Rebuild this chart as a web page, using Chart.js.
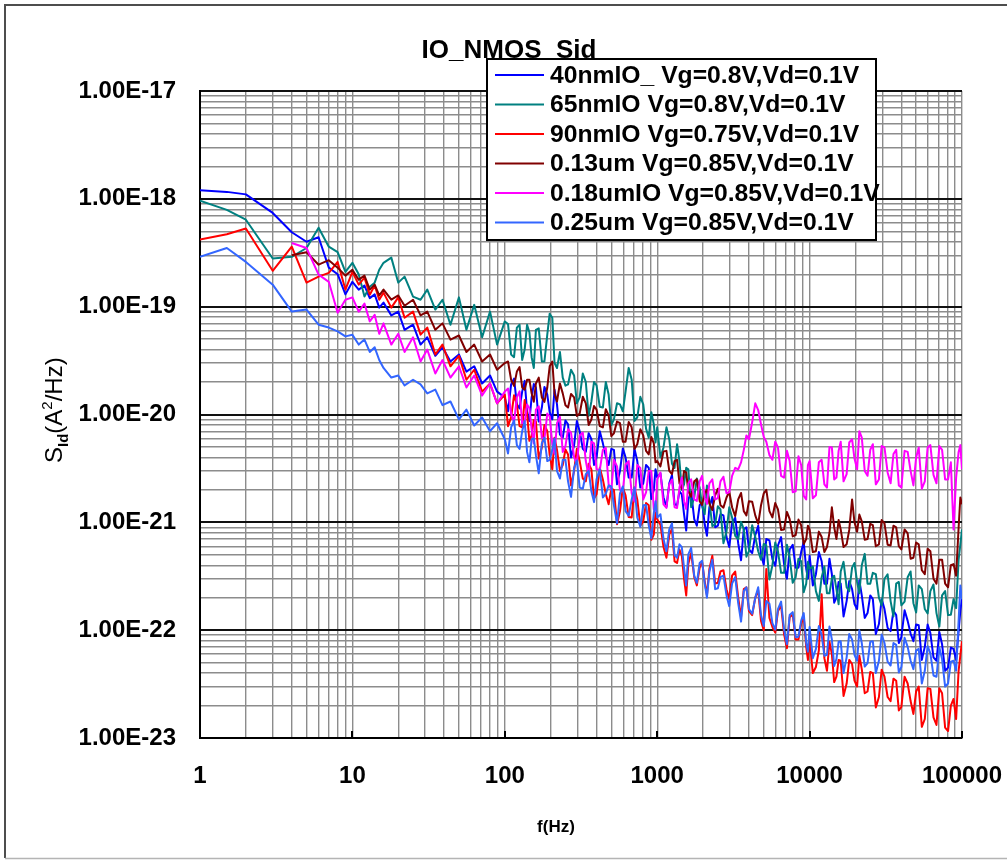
<!DOCTYPE html>
<html>
<head>
<meta charset="utf-8">
<title>IO_NMOS_Sid</title>
<script src="https://cdn.jsdelivr.net/npm/chart.js@4.4.0/dist/chart.umd.min.js"></script>
<style>
  html, body { margin: 0; padding: 0; background: #fff; }
  #wrap { width: 1007px; height: 863px; position: relative; }
</style>
</head>
<body>
<div id="wrap"><canvas id="c" width="1007" height="863"></canvas></div>
<script>
// ---- text ----
const FONT = "'Liberation Sans', Arial, Helvetica, sans-serif";
const TITLE = 'IO_NMOS_Sid';
const X_TITLE = 'f(Hz)';

// ---- axes ----
const X_DECADES = [1, 10, 100, 1000, 10000, 100000];
const X_TICK_LABELS = ['1', '10', '100', '1000', '10000', '100000'];
const Y_DECADES = [1e-23, 1e-22, 1e-21, 1e-20, 1e-19, 1e-18, 1e-17];
const Y_TICK_LABELS = ['1.00E-23', '1.00E-22', '1.00E-21', '1.00E-20', '1.00E-19', '1.00E-18', '1.00E-17'];

// ---- series ----
const SERIES_NAMES = [
  '40nmIO_ Vg=0.8V,Vd=0.1V',
  '65nmIO Vg=0.8V,Vd=0.1V',
  '90nmIO Vg=0.75V,Vd=0.1V',
  '0.13um Vg=0.85V,Vd=0.1V',
  '0.18umIO Vg=0.85V,Vd=0.1V',
  '0.25um Vg=0.85V,Vd=0.1V'
];
const SERIES_COLORS = ['#0000ff', '#008080', '#ff0000', '#800000', '#ff00ff', '#3366ff'];

// frequency points (Hz)
const FREQ = [
  1, 1.5, 2, 3, 4, 5, 6, 7, 8, 9,
  10, 11, 12, 13, 14, 15, 16, 18, 20, 22, 25, 28, 31, 35, 39, 44, 50, 56, 63, 71, 80, 89,
  100, 105, 110, 115, 120, 125, 130, 135, 140, 145, 150, 155, 160, 167, 175, 182, 190, 197, 205, 212,
  220, 230, 240, 250, 260, 272, 285, 297, 310, 325, 340, 355, 370, 385, 400, 420, 440, 460, 480, 500,
  520, 545, 570, 595, 620, 650, 680, 710, 740, 775, 810, 845, 880, 915, 950, 975,
  1000, 1050, 1100, 1150, 1200, 1250, 1300, 1350, 1400, 1450, 1500, 1550, 1600, 1670, 1750, 1820, 1900, 1970, 2050, 2120,
  2200, 2300, 2400, 2500, 2600, 2720, 2850, 2970, 3100, 3250, 3400, 3550, 3700, 3850, 4000, 4200, 4400, 4600, 4800, 5000,
  5200, 5450, 5700, 5950, 6200, 6500, 6800, 7100, 7400, 7750, 8100, 8450, 8800, 9150, 9500, 9750,
  10000, 10500, 11000, 11500, 12000, 12500, 13000, 13500, 14000, 14500, 15000, 15500, 16000, 16700, 17500, 18200, 19000, 19700, 20500, 21200,
  22000, 23000, 24000, 25000, 26000, 27200, 28500, 29700, 31000, 32500, 34000, 35500, 37000, 38500, 40000, 42000, 44000, 46000, 48000, 50000,
  52000, 54500, 57000, 59500, 62000, 65000, 68000, 71000, 74000, 77500, 81000, 84500, 88000, 91500, 95000, 97500, 100000
];

// Sid (A^2/Hz) for each device, one value per FREQ entry
const S_40NM = [
  1.2e-18, 1.16e-18, 1.1e-18, 7.4e-19, 4.9e-19, 4.0e-19, 4.4e-19, 2.3e-19, 2.0e-19, 1.3e-19,
  1.7e-19, 1.44e-19, 1.57e-19, 1.2e-19, 1.3e-19, 9.8e-20, 1.09e-19, 8.3e-20, 9.0e-20, 6.1e-20, 6.8e-20, 4.45e-20, 5.2e-20, 3.5e-20, 4.2e-20, 3.1e-20, 3.6e-20, 2.5e-20, 2.8e-20, 1.94e-20, 2.3e-20, 1.63e-20,
  1.44e-20, 1.07e-20, 1.9e-20, 2.15e-20, 1.24e-20, 1.14e-20, 1.63e-20, 2.05e-20, 1.07e-20, 8.7e-21, 1.44e-20, 1.92e-20, 1.78e-20, 8.6e-21, 1.16e-20, 1.8e-20, 1.53e-20, 1.05e-20, 9.0e-21, 1.7e-20,
  1.24e-20, 6.5e-21, 6.1e-21, 8.8e-21, 8.1e-21, 4.0e-21, 5.2e-21, 8.7e-21, 7.0e-21, 4.8e-21, 4.5e-21, 6.7e-21, 5.9e-21, 3.4e-21, 4.0e-21, 7.0e-21, 5.4e-21, 4.1e-21, 3.4e-21, 4.8e-21,
  4.7e-21, 2.25e-21, 3.0e-21, 4.85e-21, 4.0e-21, 2.6e-21, 2.6e-21, 4.8e-21, 3.7e-21, 2.1e-21, 2.3e-21, 3.4e-21, 3.2e-21, 1.65e-21, 2.0e-21, 3.1e-21,
  2.6e-21, 2.85e-21, 1.7e-21, 1.39e-21, 2.3e-21, 2.75e-21, 1.47e-21, 1.44e-21, 1.94e-21, 1.82e-21, 1.19e-21, 8.4e-22, 1.63e-21, 1.92e-21, 1.07e-21, 9.3e-22, 1.44e-21, 1.53e-21, 9.6e-22, 7.5e-22,
  1.38e-21, 1.72e-21, 9.0e-22, 9.3e-22, 1.19e-21, 1.16e-21, 7.3e-22, 5.9e-22, 9.8e-22, 1.1e-21, 6.4e-22, 4.45e-22, 8.6e-22, 9.0e-22, 5.6e-22, 5.2e-22, 7.6e-22, 9.3e-22, 5.05e-22, 4.05e-22,
  7.0e-22, 6.8e-22, 4.55e-22, 3.95e-22, 6.1e-22, 7.3e-22, 4.1e-22, 3.0e-22, 5.6e-22, 6.2e-22, 3.8e-22, 3.8e-22, 5.3e-22, 6.6e-22, 3.7e-22, 3.0e-22,
  4.9e-22, 2.6e-22, 3.3e-22, 5.3e-22, 4.35e-22, 2.7e-22, 2.7e-22, 4.6e-22, 3.3e-22, 1.8e-22, 2.0e-22, 2.8e-22, 2.7e-22, 1.34e-22, 1.86e-22, 2.85e-22, 2.4e-22, 1.75e-22, 1.57e-22, 2.9e-22,
  2.1e-22, 1.3e-22, 1.44e-22, 2.1e-22, 1.94e-22, 9.2e-23, 1.14e-22, 1.94e-22, 1.57e-22, 1.05e-22, 9.8e-23, 1.51e-22, 1.38e-22, 7.6e-23, 8.6e-23, 1.53e-22, 1.22e-22, 9.3e-23, 7.9e-23, 1.13e-22,
  1.11e-22, 5.3e-23, 7.0e-23, 1.13e-22, 9.4e-23, 5.6e-23, 5.2e-23, 9.6e-23, 7.4e-23, 4.2e-23, 4.5e-23, 6.9e-23, 6.7e-23, 5.3e-23, 9.8e-23, 1.5e-22, 2.0e-22
];
const S_65NM = [
  9.6e-19, 7.9e-19, 6.4e-19, 2.8e-19, 2.9e-19, 3.5e-19, 5.4e-19, 3.6e-19, 3.2e-19, 2.1e-19,
  2.55e-19, 2.0e-19, 1.24e-19, 1.53e-19, 1.67e-19, 2.2e-19, 2.55e-19, 2.85e-19, 1.67e-19, 1.9e-19, 1.24e-19, 1.16e-19, 1.44e-19, 9.4e-20, 1.16e-19, 6.8e-20, 1.22e-19, 6.1e-20, 1.04e-19, 5.2e-20, 9.0e-20, 4.45e-20,
  7.3e-20, 6.9e-20, 3.6e-20, 3.4e-20, 6.4e-20, 6.8e-20, 3.2e-20, 4.0e-20, 6.8e-20, 5.8e-20, 3.4e-20, 2.7e-20, 6.1e-20, 6.3e-20, 3.1e-20, 3.1e-20, 5.5e-20, 8.6e-20, 7.9e-20, 3.0e-20,
  2.7e-20, 3.8e-20, 2.2e-20, 1.85e-20, 1.9e-20, 2.6e-20, 2.3e-20, 1.27e-20, 1.44e-20, 2.4e-20, 2.0e-20, 9.7e-21, 1.32e-20, 2.0e-20, 1.86e-20, 1.18e-20, 1.16e-20, 2.0e-20, 1.53e-20, 8.0e-21,
  9.0e-21, 1.27e-20, 1.24e-20, 1.07e-20, 1.63e-20, 2.7e-20, 2.1e-20, 8.7e-21, 9.4e-21, 1.46e-20, 1.24e-20, 7.4e-21, 6.1e-21, 1.05e-20, 8.1e-21, 5.5e-21,
  7.6e-21, 4.0e-21, 4.95e-21, 7.6e-21, 5.9e-21, 3.5e-21, 3.2e-21, 5.3e-21, 3.7e-21, 2.0e-21, 2.25e-21, 3.2e-21, 3.1e-21, 1.38e-21, 1.7e-21, 2.55e-21, 2.1e-21, 1.42e-21, 1.19e-21, 2.2e-21,
  1.57e-21, 9.2e-22, 9.6e-22, 1.41e-21, 1.32e-21, 6.4e-22, 8.2e-22, 1.38e-21, 1.11e-21, 7.5e-22, 7.0e-22, 1.01e-21, 8.6e-22, 4.8e-22, 5.4e-22, 9.4e-22, 7.3e-22, 5.4e-22, 4.5e-22, 6.3e-22,
  6.1e-22, 2.95e-22, 4.0e-22, 6.5e-22, 5.4e-22, 3.4e-22, 3.4e-22, 6.2e-22, 4.7e-22, 2.75e-22, 3.1e-22, 4.6e-22, 4.35e-22, 2.25e-22, 2.7e-22, 4.3e-22,
  3.7e-22, 3.9e-22, 2.3e-22, 1.87e-22, 3.1e-22, 3.9e-22, 2.2e-22, 2.2e-22, 3.0e-22, 3.2e-22, 2.4e-22, 1.74e-22, 3.5e-22, 4.3e-22, 2.5e-22, 2.3e-22, 3.8e-22, 4.2e-22, 2.8e-22, 2.2e-22,
  4.0e-22, 5.1e-22, 2.7e-22, 2.7e-22, 3.4e-22, 3.3e-22, 2.0e-22, 1.7e-22, 3.0e-22, 3.3e-22, 1.86e-22, 1.34e-22, 2.7e-22, 2.8e-22, 1.7e-22, 1.84e-22, 3.1e-22, 3.5e-22, 1.78e-22, 1.46e-22,
  2.6e-22, 2.4e-22, 1.57e-22, 1.43e-22, 2.3e-22, 2.65e-22, 1.44e-22, 1.08e-22, 2.1e-22, 2.3e-22, 1.38e-22, 1.39e-22, 1.94e-22, 1.6e-22, 4.5e-22, 6.2e-22, 8.6e-22
];
const S_90NM = [
  4.2e-19, 4.7e-19, 5.3e-19, 2.15e-19, 3.6e-19, 1.67e-19, 1.9e-19, 2.06e-19, 2.6e-19, 1.44e-19,
  2.1e-19, 1.6e-19, 1.86e-19, 1.29e-19, 1.57e-19, 1.16e-19, 1.35e-19, 9.8e-20, 1.22e-19, 7.9e-20, 9.0e-20, 5.5e-20, 6.4e-20, 3.6e-20, 4.45e-20, 2.8e-20, 3.5e-20, 2.1e-20, 2.6e-20, 1.63e-20, 1.94e-20, 1.27e-20,
  1.53e-20, 7.8e-21, 9.4e-21, 1.51e-20, 1.24e-20, 7.8e-21, 7.6e-21, 1.36e-20, 1.02e-20, 5.7e-21, 6.4e-21, 8.9e-21, 8.6e-21, 3.9e-21, 4.95e-21, 8.0e-21, 7.0e-21, 4.2e-21, 3.1e-21, 6.1e-21,
  4.7e-21, 3.0e-21, 3.4e-21, 4.75e-21, 4.26e-21, 2.2e-21, 3.0e-21, 4.8e-21, 3.7e-21, 2.55e-21, 2.4e-21, 3.5e-21, 3.1e-21, 1.66e-21, 1.82e-21, 3.2e-21, 2.5e-21, 1.82e-21, 1.47e-21, 2.05e-21,
  2.0e-21, 9.6e-22, 1.27e-21, 2.1e-21, 1.78e-21, 1.12e-21, 1.11e-21, 2.1e-21, 1.63e-21, 9.3e-22, 1.02e-21, 1.51e-21, 1.44e-21, 6.9e-22, 7.7e-22, 1.23e-21,
  1.07e-21, 9.5e-22, 5.9e-22, 4.7e-22, 7.7e-22, 8.7e-22, 4.35e-22, 4.2e-22, 5.6e-22, 4.9e-22, 3.0e-22, 2.1e-22, 4.1e-22, 5.2e-22, 3.1e-22, 2.6e-22, 3.8e-22, 4.3e-22, 2.85e-22, 2.1e-22,
  3.7e-22, 4.9e-22, 2.7e-22, 2.75e-22, 3.5e-22, 3.6e-22, 2.4e-22, 1.94e-22, 3.2e-22, 3.5e-22, 2.0e-22, 1.32e-22, 2.4e-22, 2.5e-22, 1.5e-22, 1.38e-22, 2.0e-22, 2.35e-22, 1.22e-22, 1.0e-22,
  3.7e-22, 1.3e-22, 1.07e-22, 9.5e-23, 1.5e-22, 1.7e-22, 9.2e-23, 6.8e-23, 1.32e-22, 1.4e-22, 8.2e-23, 8.2e-23, 1.14e-22, 1.34e-22, 7.0e-23, 5.3e-23,
  8.2e-23, 4.0e-23, 4.55e-23, 6.5e-23, 2.15e-22, 5.5e-23, 4.2e-23, 7.8e-23, 6.0e-23, 3.3e-23, 3.7e-23, 5.3e-23, 5.2e-23, 2.45e-23, 3.2e-23, 5.3e-23, 4.85e-23, 3.4e-23, 3.0e-23, 5.8e-23,
  4.35e-23, 2.6e-23, 2.7e-23, 4.1e-23, 4.0e-23, 1.92e-23, 2.4e-23, 4.3e-23, 3.7e-23, 2.4e-23, 2.2e-23, 3.55e-23, 3.4e-23, 1.8e-23, 1.94e-23, 3.7e-23, 3.2e-23, 2.2e-23, 1.67e-23, 2.7e-23,
  3.0e-23, 1.27e-23, 1.5e-23, 2.9e-23, 2.85e-23, 1.55e-23, 1.32e-23, 2.9e-23, 2.6e-23, 1.25e-23, 1.16e-23, 2.0e-23, 2.3e-23, 1.5e-23, 4.2e-23, 5.8e-23, 7.9e-23
];
const S_013UM = [
  null, null, null, null, 3.0e-19, 3.2e-19, 2.45e-19, 2.7e-19, 2.3e-19, 1.94e-19,
  2.2e-19, 1.78e-19, 1.94e-19, 1.44e-19, 1.6e-19, 1.27e-19, 1.44e-19, 1.16e-19, 1.27e-19, 1.02e-19, 1.16e-19, 8.3e-20, 9.0e-20, 6.1e-20, 7.0e-20, 4.95e-20, 5.4e-20, 3.8e-20, 4.45e-20, 3.1e-20, 3.6e-20, 2.6e-20,
  3.0e-20, 3.1e-20, 2.1e-20, 1.84e-20, 2.5e-20, 2.75e-20, 1.78e-20, 1.7e-20, 2.1e-20, 2.1e-20, 1.57e-20, 1.31e-20, 1.94e-20, 2.2e-20, 1.44e-20, 1.31e-20, 1.78e-20, 2.8e-20, 3.1e-20, 1.56e-20,
  1.32e-20, 1.94e-20, 1.57e-20, 1.22e-20, 1.16e-20, 1.55e-20, 1.44e-20, 9.7e-21, 1.02e-20, 1.46e-20, 1.27e-20, 8.0e-21, 9.0e-21, 1.2e-20, 1.11e-20, 7.8e-21, 7.6e-21, 1.12e-20, 9.8e-21, 6.3e-21,
  6.7e-21, 8.6e-21, 8.3e-21, 5.6e-21, 5.6e-21, 8.5e-21, 7.6e-21, 4.8e-21, 5.3e-21, 7.3e-21, 6.4e-21, 4.6e-21, 4.26e-21, 6.2e-21, 5.4e-21, 3.6e-21,
  3.7e-21, 3.3e-21, 4.55e-21, 4.6e-21, 3.0e-21, 2.8e-21, 3.7e-21, 3.8e-21, 2.3e-21, 2.05e-21, 3.0e-21, 2.9e-21, 1.94e-21, 1.73e-21, 2.4e-21, 2.5e-21, 1.57e-21, 1.45e-21, 1.86e-21, 2.0e-21,
  1.5e-21, 1.3e-21, 1.78e-21, 2.05e-21, 1.44e-21, 1.37e-21, 1.7e-21, 1.92e-21, 1.38e-21, 1.14e-21, 1.63e-21, 1.87e-21, 1.27e-21, 1.16e-21, 1.57e-21, 1.55e-21, 1.16e-21, 9.7e-22, 1.44e-21, 1.85e-21,
  2.0e-21, 1.27e-21, 1.11e-21, 1.51e-21, 1.32e-21, 8.5e-22, 8.6e-22, 1.25e-21, 1.07e-21, 7.4e-22, 7.6e-22, 1.06e-21, 9.4e-22, 6.3e-22, 7.0e-22, 9.3e-22,
  8.6e-22, 5.3e-22, 5.4e-22, 8.2e-22, 7.3e-22, 5.3e-22, 5.9e-22, 8.0e-22, 1.38e-21, 9.0e-22, 7.0e-22, 1.05e-21, 8.6e-22, 5.9e-22, 6.25e-22, 8.5e-22, 1.63e-21, 1.0e-21, 8.2e-22, 1.18e-21,
  1.02e-21, 6.9e-22, 7.0e-22, 9.7e-22, 9.4e-22, 6.0e-22, 6.25e-22, 1.05e-21, 9.8e-22, 6.2e-22, 6.1e-22, 9.3e-22, 9.0e-22, 6.0e-22, 5.6e-22, 8.6e-22, 7.9e-22, 4.6e-22, 4.7e-22, 6.5e-22,
  6.25e-22, 3.6e-22, 3.3e-22, 5.7e-22, 5.4e-22, 3.0e-22, 2.7e-22, 4.5e-22, 4.5e-22, 2.7e-22, 2.5e-22, 4.0e-22, 4.1e-22, 3.2e-22, 8.9e-22, 1.7e-21, 1.47e-21
];
const S_018UM = [
  null, null, null, null, 3.9e-19, 3.5e-19, 1.98e-19, 1.7e-19, 8.8e-20, 1.16e-19,
  1.22e-19, 9.0e-20, 1.07e-19, 7.3e-20, 8.4e-20, 5.6e-20, 7.0e-20, 4.45e-20, 5.6e-20, 3.8e-20, 5.2e-20, 3.1e-20, 4.0e-20, 2.4e-20, 3.2e-20, 2.2e-20, 2.8e-20, 1.78e-20, 2.3e-20, 1.5e-20, 1.94e-20, 1.27e-20,
  1.63e-20, 1.74e-20, 1.02e-20, 8.5e-21, 1.44e-20, 1.64e-20, 8.3e-21, 8.6e-21, 1.24e-20, 1.14e-20, 7.3e-21, 5.4e-21, 1.11e-20, 1.19e-20, 6.1e-21, 5.9e-21, 1.02e-20, 9.6e-21, 5.3e-21, 4.3e-21,
  8.3e-21, 9.5e-21, 4.5e-21, 5.1e-21, 7.3e-21, 6.8e-21, 4.0e-21, 3.5e-21, 6.4e-21, 6.8e-21, 3.7e-21, 2.7e-21, 5.6e-21, 5.4e-21, 3.1e-21, 3.05e-21, 4.7e-21, 4.9e-21, 2.25e-21, 2.0e-21,
  3.8e-21, 3.3e-21, 2.0e-21, 1.96e-21, 3.44e-21, 3.7e-21, 1.86e-21, 1.56e-21, 3.4e-21, 3.2e-21, 1.63e-21, 1.9e-21, 3.0e-21, 3.0e-21, 1.32e-21, 1.27e-21,
  2.5e-21, 2.9e-21, 1.47e-21, 1.36e-21, 2.25e-21, 2.5e-21, 1.38e-21, 1.36e-21, 2.1e-21, 2.6e-21, 1.57e-21, 1.33e-21, 2.3e-21, 2.5e-21, 1.63e-21, 1.58e-21, 2.4e-21, 2.7e-21, 1.7e-21, 1.48e-21,
  2.3e-21, 2.5e-21, 1.63e-21, 1.68e-21, 2.4e-21, 2.65e-21, 1.86e-21, 1.9e-21, 2.7e-21, 3.2e-21, 3.1e-21, 3.6e-21, 4.7e-21, 6.4e-21, 5.9e-21, 8.5e-21, 1.27e-20, 1.1e-20, 8.1e-21, 6.2e-21,
  5.6e-21, 4.2e-21, 3.8e-21, 5.6e-21, 4.95e-21, 2.7e-21, 2.6e-21, 4.6e-21, 3.7e-21, 1.9e-21, 1.94e-21, 4.1e-21, 3.4e-21, 1.76e-21, 1.63e-21, 3.4e-21,
  3.7e-21, 1.67e-21, 1.78e-21, 3.6e-21, 3.8e-21, 2.25e-21, 2.1e-21, 5.0e-21, 4.95e-21, 2.5e-21, 2.6e-21, 4.6e-21, 5.6e-21, 2.4e-21, 2.8e-21, 5.5e-21, 5.9e-21, 3.9e-21, 3.1e-21, 7.0e-21,
  6.1e-21, 3.0e-21, 2.7e-21, 4.7e-21, 5.3e-21, 2.25e-21, 2.5e-21, 5.1e-21, 4.95e-21, 2.9e-21, 2.3e-21, 4.3e-21, 4.7e-21, 2.2e-21, 2.1e-21, 4.6e-21, 4.5e-21, 3.0e-21, 2.2e-21, 4.0e-21,
  4.95e-21, 2.05e-21, 2.4e-21, 4.95e-21, 5.2e-21, 2.75e-21, 2.3e-21, 5.1e-21, 4.7e-21, 2.5e-21, 2.5e-21, 3.6e-21, 8.6e-22, 2.6e-21, 4.5e-21, 5.2e-21, 3.1e-21
];
const S_025UM = [
  2.9e-19, 3.5e-19, 2.6e-19, 1.6e-19, 9.0e-20, 9.4e-20, 6.8e-20, 6.4e-20, 5.9e-20, 5.3e-20,
  5.5e-20, 4.45e-20, 4.95e-20, 3.8e-20, 4.2e-20, 3.2e-20, 2.7e-20, 2.2e-20, 2.3e-20, 1.86e-20, 2.1e-20, 1.9e-20, 1.57e-20, 1.7e-20, 1.22e-20, 1.32e-20, 9.0e-21, 1.11e-20, 7.9e-21, 9.4e-21, 7.0e-21, 8.3e-21,
  5.9e-21, 4.35e-21, 7.6e-21, 8.8e-21, 5.2e-21, 4.8e-21, 7.0e-21, 8.7e-21, 4.5e-21, 3.6e-21, 5.9e-21, 6.0e-21, 4.2e-21, 2.85e-21, 5.4e-21, 6.1e-21, 3.7e-21, 3.8e-21, 4.7e-21, 6.0e-21,
  3.0e-21, 2.55e-21, 3.8e-21, 3.8e-21, 2.4e-21, 1.72e-21, 3.2e-21, 3.75e-21, 2.1e-21, 2.05e-21, 2.8e-21, 3.0e-21, 1.94e-21, 1.54e-21, 2.5e-21, 3.1e-21, 1.7e-21, 1.84e-21, 2.2e-21, 2.15e-21,
  1.44e-21, 9.8e-22, 1.86e-21, 2.15e-21, 1.27e-21, 1.15e-21, 1.63e-21, 2.1e-21, 1.11e-21, 9.1e-22, 1.44e-21, 1.45e-21, 9.4e-22, 7.1e-22, 1.22e-21, 1.57e-21,
  1.11e-21, 1.19e-21, 7.0e-22, 5.4e-22, 8.6e-22, 9.8e-22, 4.95e-22, 4.7e-22, 6.25e-22, 5.9e-22, 3.8e-22, 2.6e-22, 5.05e-22, 5.8e-22, 3.2e-22, 2.75e-22, 4.2e-22, 4.4e-22, 2.7e-22, 2.0e-22,
  3.5e-22, 4.5e-22, 2.4e-22, 2.45e-22, 3.1e-22, 3.2e-22, 2.1e-22, 1.67e-22, 2.7e-22, 3.1e-22, 1.78e-22, 1.2e-22, 2.3e-22, 2.5e-22, 1.57e-22, 1.42e-22, 2.0e-22, 2.5e-22, 1.38e-22, 1.09e-22,
  1.86e-22, 1.76e-22, 1.16e-22, 1.01e-22, 1.57e-22, 1.84e-22, 1.02e-22, 7.4e-23, 1.38e-22, 1.47e-22, 8.6e-23, 8.7e-23, 1.22e-22, 1.44e-22, 7.6e-23, 6.3e-23,
  1.07e-22, 5.5e-23, 6.7e-23, 1.09e-22, 9.0e-23, 5.8e-23, 5.9e-23, 1.08e-22, 8.2e-23, 4.65e-23, 5.4e-23, 7.8e-23, 7.9e-23, 4.0e-23, 5.6e-23, 9.2e-23, 8.2e-23, 5.9e-23, 5.2e-23, 1.0e-22,
  7.6e-23, 4.6e-23, 4.95e-23, 7.8e-23, 7.9e-23, 4.0e-23, 5.2e-23, 9.1e-23, 7.6e-23, 5.1e-23, 4.7e-23, 7.6e-23, 7.3e-23, 4.05e-23, 4.55e-23, 8.5e-23, 7.0e-23, 5.2e-23, 4.35e-23, 6.5e-23,
  6.7e-23, 3.2e-23, 4.2e-23, 7.1e-23, 6.1e-23, 3.8e-23, 3.7e-23, 6.9e-23, 5.4e-23, 3.0e-23, 3.2e-23, 5.1e-23, 5.2e-23, 4.2e-23, 1.22e-22, 2.6e-22, 1.94e-22
];

const SERIES = [S_40NM, S_65NM, S_90NM, S_013UM, S_018UM, S_025UM];

// ---- helpers ----
const isDecade = v => {
  const e = Math.log10(v);
  return Math.abs(e - Math.round(e)) < 1e-6;
};
// 1..9 x each decade, then the final decade value
const logGrid = decades => {
  const out = [];
  decades.forEach((d, i) => {
    if (i === decades.length - 1) { out.push(d); return; }
    for (let k = 1; k <= 9; k++) out.push(d * k);
  });
  return out;
};
const labelFor = (decades, labels) => v => {
  const i = decades.findIndex(d => Math.abs(v / d - 1) < 1e-6);
  return i < 0 ? '' : labels[i];
};
const toPoints = vals => FREQ.map((f, i) => ({ x: f, y: vals[i] })).filter(p => p.y !== null);

// ---- page furniture: frame, title, axis titles, legend ----
const decor = {
  id: 'decor',
  beforeDraw(chart) {
    const ctx = chart.ctx;
    ctx.save();
    ctx.fillStyle = '#ffffff';
    ctx.fillRect(0, 0, chart.width, chart.height);
    ctx.restore();
  },
  afterDraw(chart) {
    const ctx = chart.ctx;
    const area = chart.chartArea;
    const xs = chart.scales.x;
    ctx.save();

    // short decade marks on the bottom axis
    ctx.strokeStyle = '#000';
    ctx.lineWidth = 2;
    X_DECADES.forEach(v => {
      const px = Math.round(xs.getPixelForValue(v));
      ctx.beginPath();
      ctx.moveTo(px, area.bottom - 7);
      ctx.lineTo(px, area.bottom);
      ctx.stroke();
    });

    // outer frame
    ctx.strokeStyle = '#4d4d4d';
    ctx.lineWidth = 2;
    ctx.beginPath();
    ctx.moveTo(5, 858);
    ctx.lineTo(5, 5);
    ctx.lineTo(1007, 5);
    ctx.stroke();
    ctx.strokeStyle = '#b4b4b4';
    ctx.lineWidth = 1.5;
    ctx.beginPath();
    ctx.moveTo(5, 858.5);
    ctx.lineTo(1007, 858.5);
    ctx.stroke();

    // chart title
    ctx.fillStyle = '#000';
    ctx.textAlign = 'center';
    ctx.textBaseline = 'alphabetic';
    ctx.font = `bold 26px ${FONT}`;
    ctx.fillText(TITLE, 509, 58);

    // x axis title
    ctx.font = `bold 17px ${FONT}`;
    ctx.fillText(X_TITLE, 556, 832);

    // y axis title: S_Id(A^2/Hz), rotated
    ctx.save();
    ctx.translate(62, 463);
    ctx.rotate(-Math.PI / 2);
    ctx.textAlign = 'left';
    const parts = [
      { t: 'S', f: `24px ${FONT}`, dy: 0 },
      { t: 'Id', f: `bold 15px ${FONT}`, dy: 6 },
      { t: '(A', f: `24px ${FONT}`, dy: 0 },
      { t: '2', f: `15px ${FONT}`, dy: -10 },
      { t: '/Hz)', f: `24px ${FONT}`, dy: 0 }
    ];
    let cx = 0;
    parts.forEach(p => {
      ctx.font = p.f;
      ctx.fillText(p.t, cx, p.dy);
      cx += ctx.measureText(p.t).width;
    });
    ctx.restore();

    // legend box
    const lx = 487, ly = 59, lw = 389, lh = 181;
    ctx.fillStyle = '#fff';
    ctx.fillRect(lx, ly, lw, lh);
    ctx.font = `bold 24.7px ${FONT}`;
    ctx.textAlign = 'left';
    ctx.textBaseline = 'middle';
    chart.data.datasets.forEach((ds, i) => {
      const y = 75 + i * 29.5;
      ctx.strokeStyle = ds.borderColor;
      ctx.lineWidth = 2;
      ctx.beginPath();
      ctx.moveTo(495, y);
      ctx.lineTo(544, y);
      ctx.stroke();
      ctx.fillStyle = '#000';
      ctx.fillText(ds.label, 550, y + 1);
    });
    ctx.strokeStyle = '#000';
    ctx.lineWidth = 2;
    ctx.strokeRect(lx, ly, lw, lh);

    ctx.restore();
  }
};

new Chart(document.getElementById('c'), {
  type: 'line',
  data: {
    datasets: SERIES.map((vals, i) => ({
      label: SERIES_NAMES[i],
      data: toPoints(vals),
      borderColor: SERIES_COLORS[i],
      backgroundColor: SERIES_COLORS[i],
      borderWidth: 2,
      borderJoinStyle: 'round',
      pointRadius: 0,
      tension: 0,
      fill: false,
      order: SERIES.length - i
    }))
  },
  options: {
    responsive: false,
    animation: false,
    devicePixelRatio: 1,
    layout: { autoPadding: false, padding: { left: 0, top: 91, right: 45, bottom: 0 } },
    plugins: {
      legend: { display: false },
      title: { display: false },
      tooltip: { enabled: false }
    },
    scales: {
      x: {
        type: 'logarithmic',
        position: 'bottom',
        min: 1,
        max: 100000,
        afterBuildTicks: s => { s.ticks = logGrid(X_DECADES).map(v => ({ value: v })); },
        afterFit: s => { s.height = 125; s.paddingLeft = 0; s.paddingRight = 0; },
        ticks: {
          autoSkip: false,
          maxRotation: 0,
          minRotation: 0,
          padding: 24,
          color: '#000',
          font: { family: FONT, size: 24, weight: 'bold' },
          callback: labelFor(X_DECADES, X_TICK_LABELS)
        },
        grid: { drawTicks: false, color: '#8c8c8c', lineWidth: 1.4 },
        border: { color: '#000', width: 2 }
      },
      y: {
        type: 'logarithmic',
        position: 'left',
        min: 1e-23,
        max: 1e-17,
        afterBuildTicks: s => { s.ticks = logGrid(Y_DECADES).map(v => ({ value: v })); },
        afterFit: s => { s.width = 200; s.paddingTop = 0; s.paddingBottom = 0; },
        ticks: {
          autoSkip: false,
          padding: 24,
          color: '#000',
          font: { family: FONT, size: 24, weight: 'bold' },
          callback: labelFor(Y_DECADES, Y_TICK_LABELS)
        },
        grid: {
          drawTicks: false,
          color: c => (c.tick && isDecade(c.tick.value)) ? '#111111' : '#8c8c8c',
          lineWidth: c => (c.tick && isDecade(c.tick.value)) ? 2 : 1.4
        },
        border: { color: '#000', width: 2 }
      }
    }
  },
  plugins: [decor]
});
</script>
</body>
</html>
